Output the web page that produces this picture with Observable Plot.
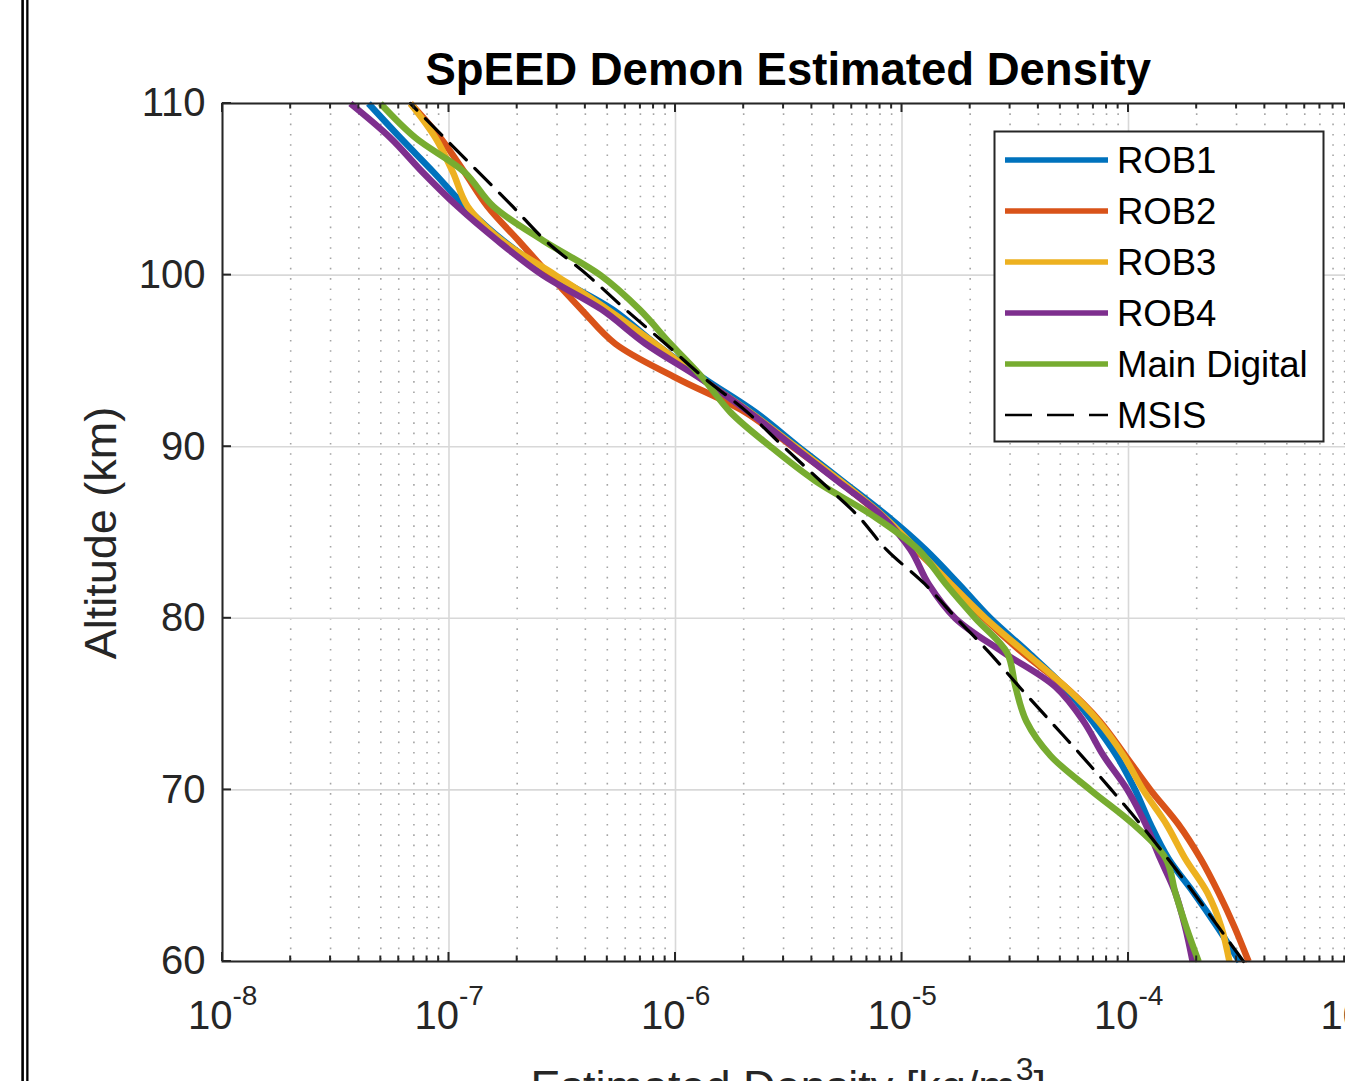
<!DOCTYPE html>
<html>
<head>
<meta charset="utf-8">
<script src="https://cdn.jsdelivr.net/npm/d3@7"></script>
<script src="https://cdn.jsdelivr.net/npm/@observablehq/plot@0.6"></script>
<style>
  html, body { margin: 0; padding: 0; background: #fff; width: 1345px; height: 1081px; overflow: hidden; }
  #wrap { position: relative; width: 1345px; height: 1081px; overflow: hidden; background: #fff; }
  #wrap > svg { position: absolute; left: 0; top: 0; max-width: none !important; }
  #overlay { pointer-events: none; }
</style>
</head>
<body>
<div id="wrap"></div>
<script>
// ---- Data ----
const altitude = [60,62,64,66,68,70,72,74,76,78,80,82,84,86,88,90,92,94,96,98,100,102,104,106,108,110];

const rob1 = [3.09e-4,2.47e-4,1.94e-4,1.50e-4,1.25e-4,1.07e-4,8.85e-5,6.93e-5,5.21e-5,3.62e-5,2.46e-5,1.78e-5,1.27e-5,8.54e-6,5.46e-6,3.49e-6,2.26e-6,1.33e-6,8.15e-7,5.27e-7,2.86e-7,1.74e-7,1.18e-7,8.54e-8,6.10e-8,4.41e-8];
const rob2 = [3.39e-4,2.94e-4,2.50e-4,2.08e-4,1.66e-4,1.25e-4,9.69e-5,7.47e-5,5.27e-5,3.40e-5,2.31e-5,1.64e-5,1.15e-5,8.03e-6,5.24e-6,3.28e-6,2.04e-6,1.01e-6,5.42e-7,3.84e-7,2.78e-7,2.03e-7,1.48e-7,1.17e-7,9.16e-8,6.76e-8];
const rob3 = [2.79e-4,2.57e-4,2.23e-4,1.78e-4,1.47e-4,1.16e-4,9.50e-5,7.37e-5,5.27e-5,3.51e-5,2.34e-5,1.64e-5,1.17e-5,8.20e-6,5.35e-6,3.39e-6,2.14e-6,1.29e-6,8.15e-7,5.01e-7,2.95e-7,1.72e-7,1.21e-7,1.04e-7,8.71e-8,6.76e-8];
const rob4 = [1.92e-4,1.78e-4,1.61e-4,1.38e-4,1.19e-4,9.89e-5,7.75e-5,6.33e-5,4.76e-5,2.81e-5,1.72e-5,1.31e-5,1.09e-5,8.11e-6,5.19e-6,3.32e-6,2.12e-6,1.28e-6,7.37e-7,4.71e-7,2.59e-7,1.64e-7,1.09e-7,7.64e-8,5.51e-8,3.67e-8];
const mainDigital = [2.04e-4,1.80e-4,1.61e-4,1.46e-4,1.05e-4,6.79e-5,4.52e-5,3.54e-5,3.17e-5,2.91e-5,2.11e-5,1.56e-5,1.18e-5,7.40e-6,4.15e-6,2.63e-6,1.75e-6,1.32e-6,9.50e-7,6.93e-7,4.66e-7,2.61e-7,1.57e-7,1.17e-7,7.11e-8,4.98e-8];
const msis = [3.22e-4,2.50e-4,1.94e-4,1.49e-4,1.13e-4,8.41e-5,6.20e-5,4.52e-5,3.30e-5,2.43e-5,1.74e-5,1.26e-5,8.54e-6,6.36e-6,4.37e-6,3.00e-6,2.08e-6,1.34e-6,9.03e-7,6.01e-7,4.09e-7,2.67e-7,1.91e-7,1.35e-7,9.55e-8,6.76e-8];

const seriesNames = ["ROB1","ROB2","ROB3","ROB4","Main Digital","MSIS"];
const seriesColors = ["#0072BD","#D95319","#EDB120","#7E2F8E","#77AC30","#000000"];
const seriesValues = [rob1, rob2, rob3, rob4, mainDigital, msis];

const xDecades = [1e-8,1e-7,1e-6,1e-5,1e-4,1e-3];
const xDecadeExponents = ["-8","-7","-6","-5","-4","-3"];
const xMinorMultipliers = [2,3,4,5,6,7,8,9];
const yTicks = [60,70,80,90,100,110];

const titleText = "SpEED Demon Estimated Density";
const yLabelText = "Altitude (km)";
const xLabelText = "Estimated Density [kg/m";
const xLabelSup = "3";

// ---- Build tables ----
const rows = seriesNames.flatMap((name, i) =>
  altitude.map((a, j) => ({name, altitude: a, density: seriesValues[i][j]})));
const measured = rows.filter(r => r.name !== "MSIS");
const model = rows.filter(r => r.name === "MSIS");
const xMinor = xDecades.slice(0, -1).flatMap(d => xMinorMultipliers.map(k => k * d));
const xTickLabels = xDecades.map((v, i) => ({v, exp: xDecadeExponents[i]}));

const FONT = "'Liberation Sans', Arial, Helvetica, sans-serif";
const AX = "#262626";

const chart = Plot.plot({
  width: 1400,
  height: 1081,
  marginLeft: 222,
  marginRight: 45.5,
  marginTop: 103,
  marginBottom: 120,
  style: {fontFamily: FONT, color: AX, background: "transparent", overflow: "visible", maxWidth: "none"},
  x: {type: "log", domain: [1e-8, 1e-3], axis: null},
  y: {type: "linear", domain: [60, 110], axis: null},
  color: {domain: seriesNames, range: seriesColors},
  marks: [
    Plot.gridX(xMinor, {stroke: "#a5a5a5", strokeOpacity: 1, strokeWidth: 1.6, strokeDasharray: "1.6,8.7"}),
    Plot.gridX(xDecades, {stroke: "#d8d8d8", strokeOpacity: 1, strokeWidth: 1.6}),
    Plot.gridY(yTicks, {stroke: "#d8d8d8", strokeOpacity: 1, strokeWidth: 1.6}),
    Plot.line(measured, {x: "density", y: "altitude", z: "name", stroke: "name",
      strokeWidth: 6.5, curve: "catmull-rom", strokeLinejoin: "round", strokeLinecap: "butt"}),
    Plot.line(model, {x: "density", y: "altitude", stroke: "name",
      strokeWidth: 3.2, strokeDasharray: "23,12", curve: "catmull-rom"}),
    Plot.frame({stroke: AX, strokeWidth: 2}),
    Plot.text(yTicks, {x: 1e-8, y: d => d, text: d => String(d), dx: -17, textAnchor: "end",
      fontSize: 40, fill: AX, fontFamily: FONT}),
    Plot.text(xTickLabels, {x: "v", y: 60, text: () => "10", dx: 10, dy: 55, textAnchor: "end",
      fontSize: 40, fill: AX, fontFamily: FONT}),
    Plot.text(xTickLabels, {x: "v", y: 60, text: "exp", dx: 10, dy: 35, textAnchor: "start",
      fontSize: 28, fill: AX, fontFamily: FONT})
  ]
});
chart.style.maxWidth = "none";
chart.style.width = "1400px";
chart.style.height = "1081px";

document.getElementById("wrap").appendChild(chart);

// ---- Tick marks (inward), positioned through Plot's scales ----
const xs = chart.scale("x"), ys = chart.scale("y");
const svg = d3.select(chart);
const tg = svg.append("g").attr("stroke", AX).attr("stroke-width", 2).attr("fill", "none");
const yb = ys.apply(60), yt = ys.apply(110), xl = xs.apply(1e-8), xr = xs.apply(1e-3);
function tick(x1, y1, x2, y2) {
  tg.append("line").attr("x1", x1).attr("y1", y1).attr("x2", x2).attr("y2", y2);
}
xDecades.forEach(v => { const X = xs.apply(v); tick(X, yb, X, yb - 9); tick(X, yt, X, yt + 9); });
xMinor.forEach(v => { const X = xs.apply(v); tick(X, yb, X, yb - 5.5); tick(X, yt, X, yt + 5.5); });
yTicks.forEach(v => { const Y = ys.apply(v); tick(xl, Y, xl + 9, Y); tick(xr, Y, xr - 9, Y); });

// ---- Overlay: frame lines, title, axis labels, legend ----
const ov = d3.select("#wrap").append("svg").attr("id", "overlay")
  .attr("width", 1345).attr("height", 1081).style("font-family", FONT);

ov.append("rect").attr("x", 21.3).attr("y", 0).attr("width", 2.6).attr("height", 1081).attr("fill", "#000");
ov.append("rect").attr("x", 26.2).attr("y", 0).attr("width", 2.3).attr("height", 1081).attr("fill", "#000");

const cx = (xl + xr) / 2;
ov.append("text").attr("x", cx).attr("y", 85).attr("text-anchor", "middle")
  .attr("font-size", 45.5).attr("font-weight", "bold").attr("fill", "#000").text(titleText);

ov.append("text").attr("transform", "translate(116,533) rotate(-90)").attr("text-anchor", "middle")
  .attr("font-size", 45).attr("fill", AX).text(yLabelText);

const xl2 = ov.append("text").attr("x", cx).attr("y", 1102).attr("text-anchor", "middle")
  .attr("font-size", 45).attr("fill", AX);
xl2.append("tspan").text(xLabelText);
xl2.append("tspan").attr("font-size", 32).attr("dy", -22).text(xLabelSup);
xl2.append("tspan").attr("dy", 22).text("]");

// Legend
const lg = ov.append("g");
lg.append("rect").attr("x", 994.5).attr("y", 131.5).attr("width", 329).attr("height", 310)
  .attr("fill", "#fff").attr("stroke", AX).attr("stroke-width", 2);
seriesNames.forEach((name, i) => {
  const y = 160 + i * 51;
  const isModel = name === "MSIS";
  lg.append("line").attr("x1", 1005).attr("x2", 1108).attr("y1", y).attr("y2", y)
    .attr("stroke", seriesColors[i]).attr("stroke-width", isModel ? 2.6 : 5.5)
    .attr("stroke-dasharray", isModel ? "27,15" : null);
  lg.append("text").attr("x", 1117).attr("y", y + 13).attr("font-size", 36.5)
    .attr("fill", "#000").text(name);
});
</script>
</body>
</html>
